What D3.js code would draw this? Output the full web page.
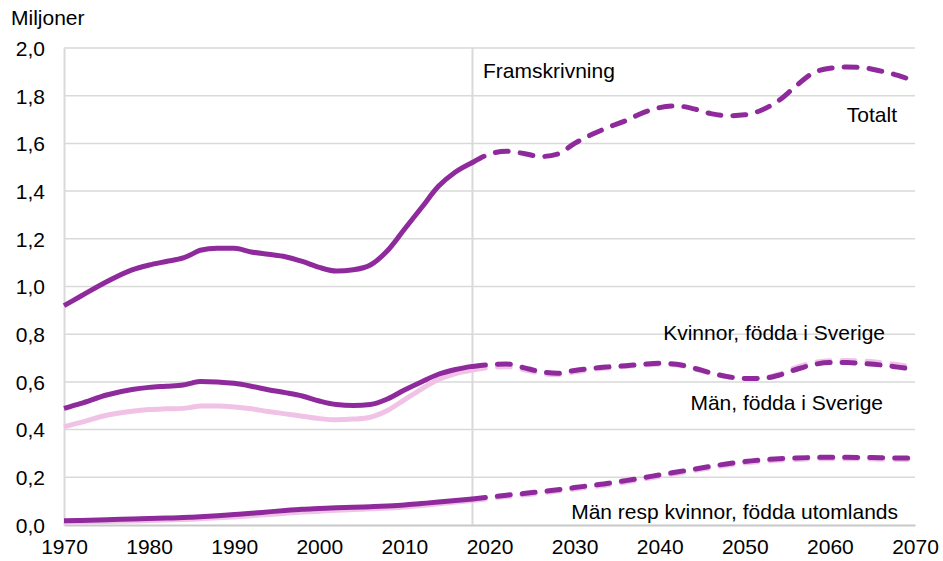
<!DOCTYPE html>
<html>
<head>
<meta charset="utf-8">
<script src="https://cdn.jsdelivr.net/npm/d3@7"></script>
<style>
  body { margin: 0; background: #fff; }
  text { font-family: "Liberation Sans", Arial, sans-serif; fill: #000; }
</style>
</head>
<body>
<svg id="chart" width="943" height="561"></svg>
<script>
// historical (solid) and projected (dashed) years
const histYears = [1970,1972,1975,1978,1980,1982,1984,1985,1986,1988,1990,1992,1994,1996,1998,2000,2002,2004,2006,2008,2010,2012,2014,2016,2018];
const projYears = [2018,2020,2022,2024,2026,2028,2030,2032,2034,2036,2038,2040,2042,2044,2046,2048,2050,2052,2054,2056,2058,2060,2062,2064,2066,2068,2070];

// miljoner
const histTotal = [0.92,0.96,1.02,1.07,1.09,1.105,1.12,1.135,1.152,1.16,1.16,1.145,1.135,1.125,1.105,1.08,1.065,1.07,1.09,1.15,1.24,1.33,1.42,1.48,1.52];
const histKvinnorSv = [0.489,0.51,0.545,0.568,0.577,0.582,0.587,0.595,0.602,0.600,0.594,0.582,0.567,0.555,0.541,0.52,0.505,0.501,0.505,0.528,0.566,0.60,0.632,0.652,0.665];
const histManSv = [0.412,0.43,0.46,0.477,0.484,0.487,0.489,0.494,0.499,0.499,0.495,0.487,0.476,0.466,0.456,0.446,0.441,0.444,0.452,0.48,0.525,0.57,0.61,0.635,0.650];
const histKvinnorUt = [0.018,0.019,0.022,0.025,0.027,0.029,0.031,0.033,0.035,0.039,0.044,0.049,0.055,0.061,0.066,0.069,0.072,0.074,0.077,0.080,0.084,0.090,0.096,0.103,0.109];
const histManUt = [0.012,0.013,0.015,0.017,0.019,0.021,0.023,0.024,0.026,0.030,0.034,0.039,0.044,0.049,0.054,0.058,0.062,0.065,0.068,0.071,0.075,0.082,0.089,0.096,0.103];

const projTotal = [1.52,1.555,1.567,1.558,1.545,1.555,1.60,1.637,1.668,1.695,1.728,1.75,1.757,1.745,1.725,1.716,1.72,1.74,1.78,1.84,1.895,1.915,1.92,1.917,1.903,1.885,1.86];
const projKvinnorSv = [0.665,0.672,0.675,0.66,0.643,0.636,0.648,0.657,0.663,0.668,0.674,0.678,0.674,0.658,0.638,0.622,0.614,0.615,0.628,0.652,0.672,0.681,0.681,0.677,0.671,0.662,0.652];
const projManSv = [0.650,0.660,0.664,0.652,0.636,0.631,0.642,0.652,0.659,0.665,0.671,0.674,0.671,0.656,0.637,0.622,0.614,0.617,0.632,0.660,0.680,0.689,0.690,0.687,0.681,0.672,0.662];
const projKvinnorUt = [0.109,0.117,0.125,0.132,0.140,0.148,0.157,0.166,0.175,0.186,0.198,0.21,0.222,0.234,0.246,0.257,0.266,0.273,0.278,0.281,0.283,0.284,0.284,0.283,0.282,0.281,0.280];
const projManUt = [0.103,0.111,0.119,0.126,0.134,0.142,0.151,0.160,0.169,0.180,0.192,0.204,0.216,0.228,0.240,0.251,0.260,0.267,0.272,0.275,0.277,0.278,0.278,0.277,0.276,0.275,0.274];

const xTicks = [1970,1980,1990,2000,2010,2020,2030,2040,2050,2060,2070];
const yTicks = [0,0.2,0.4,0.6,0.8,1.0,1.2,1.4,1.6,1.8,2.0];
const splitYear = 2018;

const dark = "#8f2a9c";
const pink = "#f0c2e6";
const gridColor = "#d9d9d9";
const fontSize = "21px";

const svg = d3.select("#chart");
const margin = { left: 64, right: 28, top: 48, bottom: 36 };
const width = 943, height = 561;

const x = d3.scaleLinear().domain([1970, 2070]).range([margin.left, width - margin.right]);
const y = d3.scaleLinear().domain([0, 2]).range([height - margin.bottom, margin.top]);

const fmt = d => d3.format(".1f")(d).replace(".", ",");

// gridlines
svg.append("g")
  .selectAll("line")
  .data(yTicks.filter(d => d > 0))
  .enter().append("line")
  .attr("x1", x(1970)).attr("x2", x(2070))
  .attr("y1", d => y(d)).attr("y2", d => y(d))
  .attr("stroke", gridColor).attr("stroke-width", 1.5);

// y axis
const yAxis = svg.append("g")
  .attr("transform", `translate(${x(1970)},0)`)
  .call(d3.axisLeft(y).tickValues(yTicks).tickFormat(fmt).tickSize(0).tickPadding(19));
yAxis.select(".domain").attr("stroke", gridColor).attr("stroke-width", 2);
yAxis.selectAll("text").style("font-size", fontSize).attr("dy", "0.35em");

// x axis
const xAxis = svg.append("g")
  .attr("transform", `translate(0,${y(0)})`)
  .call(d3.axisBottom(x).tickValues(xTicks).tickFormat(d3.format("d")).tickSize(0).tickPadding(14));
xAxis.select(".domain").attr("stroke", "#c8c8c8").attr("stroke-width", 2);
xAxis.selectAll("text").style("font-size", fontSize);

// projection divider
svg.append("line")
  .attr("x1", x(splitYear)).attr("x2", x(splitYear))
  .attr("y1", y(2)).attr("y2", y(0))
  .attr("stroke", gridColor).attr("stroke-width", 2);

const line = (years) => d3.line()
  .x((d, i) => x(years[i]))
  .y(d => y(d))
  .curve(d3.curveMonotoneX);

const series = [
  { hist: histManUt, proj: projManUt, color: pink },
  { hist: histKvinnorUt, proj: projKvinnorUt, color: dark },
  { hist: histManSv, proj: projManSv, color: pink },
  { hist: histKvinnorSv, proj: projKvinnorSv, color: dark },
  { hist: histTotal, proj: projTotal, color: dark }
];

const lines = svg.append("g").attr("fill", "none");
series.forEach(s => {
  lines.append("path")
    .attr("d", line(histYears)(s.hist))
    .attr("stroke", s.color).attr("stroke-width", 5)
    .attr("stroke-linejoin", "round");
  lines.append("path")
    .attr("d", line(projYears)(s.proj))
    .attr("stroke", s.color).attr("stroke-width", 5)
    .attr("stroke-dasharray", "13,12")
    .attr("stroke-linecap", "round");
});

// labels
const labels = [
  { text: "Miljoner", x: 11, y: 25, anchor: "start" },
  { text: "Framskrivning", x: 483, y: 78, anchor: "start" },
  { text: "Totalt", x: 897, y: 122, anchor: "end" },
  { text: "Kvinnor, födda i Sverige", x: 885, y: 340, anchor: "end" },
  { text: "Män, födda i Sverige", x: 883, y: 410, anchor: "end" },
  { text: "Män resp kvinnor, födda utomlands", x: 898, y: 519, anchor: "end" }
];
svg.append("g").selectAll("text")
  .data(labels)
  .enter().append("text")
  .attr("x", d => d.x).attr("y", d => d.y)
  .attr("text-anchor", d => d.anchor)
  .style("font-size", fontSize)
  .text(d => d.text);
</script>
</body>
</html>
